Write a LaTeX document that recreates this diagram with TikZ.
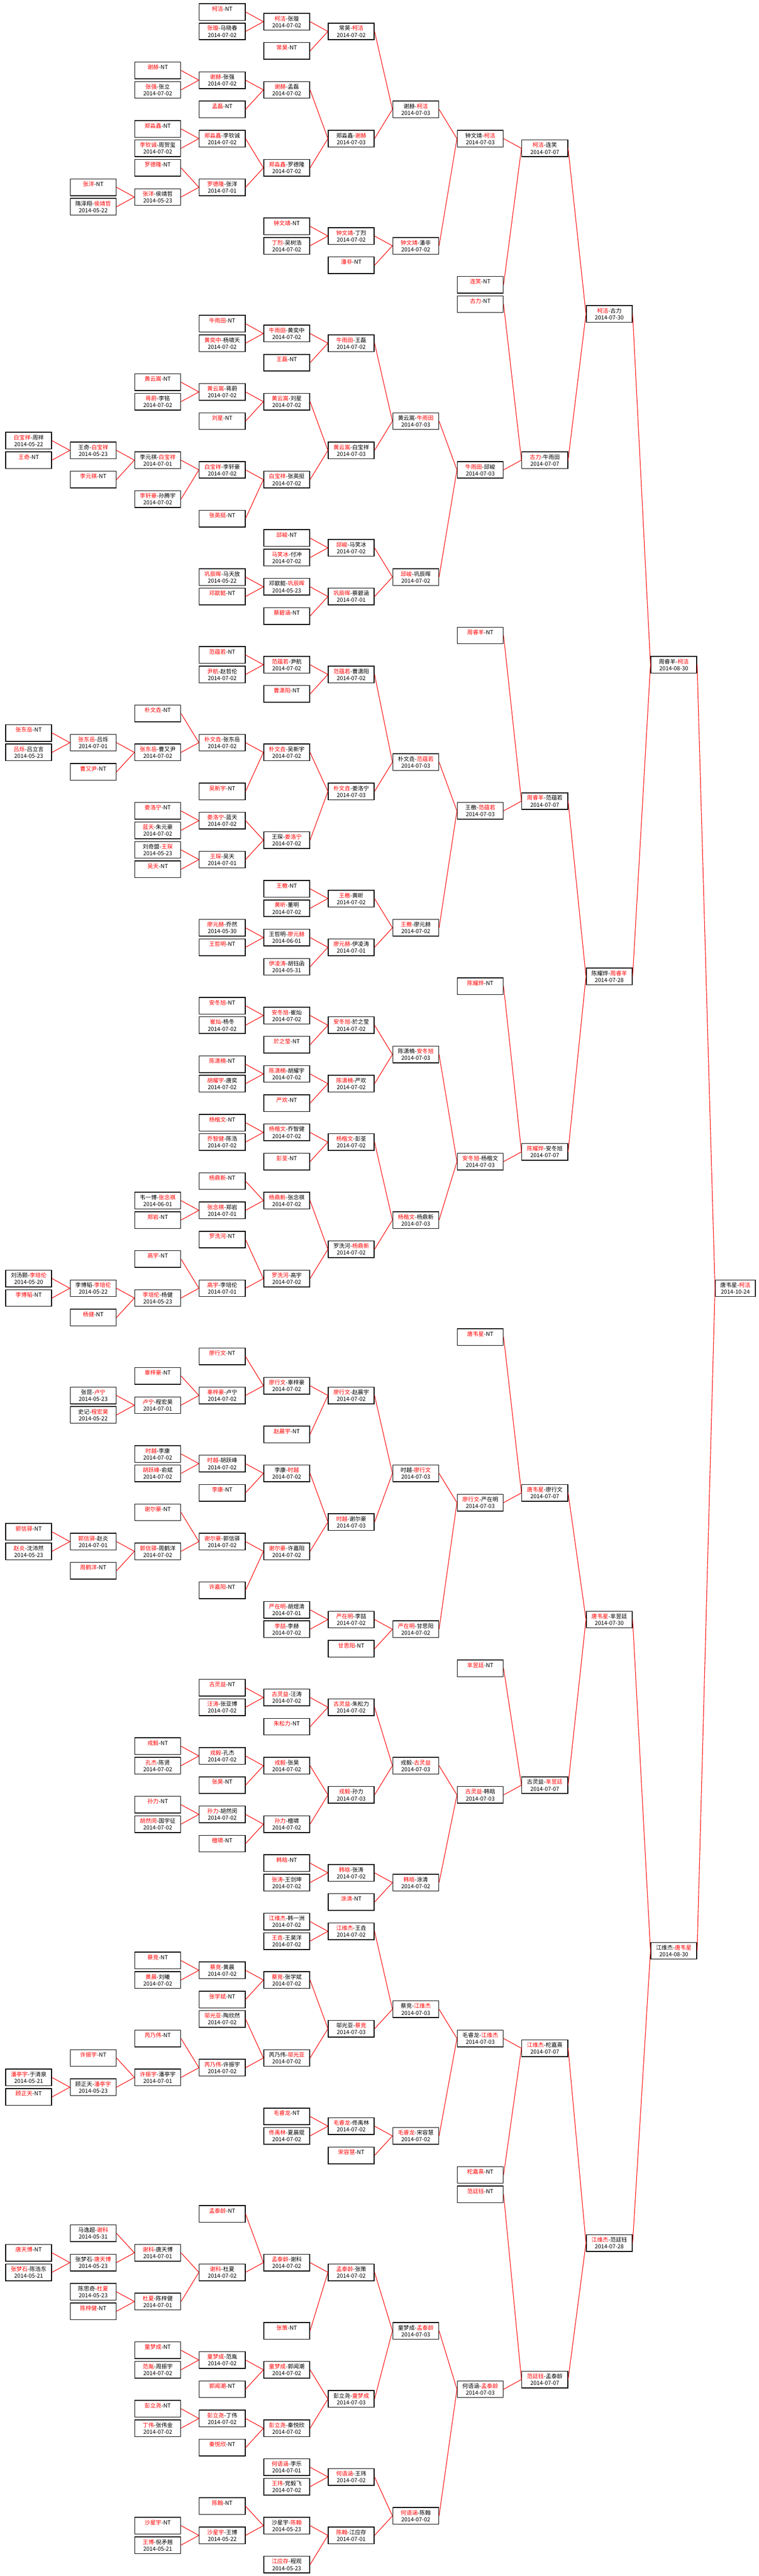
\documentclass[tikz,border=0pt]{standalone}
\usepackage{fontspec}
\newfontfamily\cjk{Noto Sans CJK SC}
\begin{document}
\begin{tikzpicture}[x=86.1pt,y=-13.005pt,
game/.style={draw,line width=1pt,minimum width=61.25pt,minimum height=22.3pt,inner sep=0pt,align=center,font=\cjk\fontsize{7.5}{9}\selectfont},
link/.style={red,line width=0.75pt}]

\def\win#1{\textcolor{red}{#1}};
\def\nodate{\phantom{0}};

\useasboundingbox (-38.275pt,15.95pt) rectangle (974.225pt,-3422.55pt);

\node[game] (g3-0) at (3,0) {\win{柯洁}-NT\\\nodate};
\node[game] (g3-2) at (3,2) {\win{张璇}-马晓春\\2014-07-02};
\node[game] (g4-1) at (4,1) {\win{柯洁}-张璇\\2014-07-02};
\draw[link] (g3-0.east) -- (g4-1.west) (g3-2.east) -- (g4-1.west);
\node[game] (g4-4) at (4,4) {\win{常昊}-NT\\\nodate};
\node[game] (g5-2) at (5,2) {常昊-\win{柯洁}\\2014-07-02};
\draw[link] (g4-1.east) -- (g5-2.west) (g4-4.east) -- (g5-2.west);
\node[game] (g2-6) at (2,6) {\win{谢赫}-NT\\\nodate};
\node[game] (g2-8) at (2,8) {\win{张强}-张立\\2014-07-02};
\node[game] (g3-7) at (3,7) {\win{谢赫}-张强\\2014-07-02};
\draw[link] (g2-6.east) -- (g3-7.west) (g2-8.east) -- (g3-7.west);
\node[game] (g3-10) at (3,10) {\win{孟磊}-NT\\\nodate};
\node[game] (g4-8) at (4,8) {\win{谢赫}-孟磊\\2014-07-02};
\draw[link] (g3-7.east) -- (g4-8.west) (g3-10.east) -- (g4-8.west);
\node[game] (g2-12) at (2,12) {\win{郑淼鑫}-NT\\\nodate};
\node[game] (g2-14) at (2,14) {\win{李钦诚}-周贺玺\\2014-07-02};
\node[game] (g3-13) at (3,13) {\win{郑淼鑫}-李钦诚\\2014-07-02};
\draw[link] (g2-12.east) -- (g3-13.west) (g2-14.east) -- (g3-13.west);
\node[game] (g2-16) at (2,16) {\win{罗德隆}-NT\\\nodate};
\node[game] (g1-18) at (1,18) {\win{张洋}-NT\\\nodate};
\node[game] (g1-20) at (1,20) {隋泽翔-\win{侯靖哲}\\2014-05-22};
\node[game] (g2-19) at (2,19) {\win{张洋}-侯靖哲\\2014-05-23};
\draw[link] (g1-18.east) -- (g2-19.west) (g1-20.east) -- (g2-19.west);
\node[game] (g3-18) at (3,18) {\win{罗德隆}-张洋\\2014-07-01};
\draw[link] (g2-16.east) -- (g3-18.west) (g2-19.east) -- (g3-18.west);
\node[game] (g4-16) at (4,16) {\win{郑淼鑫}-罗德隆\\2014-07-02};
\draw[link] (g3-13.east) -- (g4-16.west) (g3-18.east) -- (g4-16.west);
\node[game] (g5-13) at (5,13) {郑淼鑫-\win{谢赫}\\2014-07-03};
\draw[link] (g4-8.east) -- (g5-13.west) (g4-16.east) -- (g5-13.west);
\node[game] (g6-10) at (6,10) {谢赫-\win{柯洁}\\2014-07-03};
\draw[link] (g5-2.east) -- (g6-10.west) (g5-13.east) -- (g6-10.west);
\node[game] (g4-22) at (4,22) {\win{钟文靖}-NT\\\nodate};
\node[game] (g4-24) at (4,24) {\win{丁烈}-吴树浩\\2014-07-02};
\node[game] (g5-23) at (5,23) {\win{钟文靖}-丁烈\\2014-07-02};
\draw[link] (g4-22.east) -- (g5-23.west) (g4-24.east) -- (g5-23.west);
\node[game] (g5-26) at (5,26) {\win{潘非}-NT\\\nodate};
\node[game] (g6-24) at (6,24) {\win{钟文靖}-潘非\\2014-07-02};
\draw[link] (g5-23.east) -- (g6-24.west) (g5-26.east) -- (g6-24.west);
\node[game] (g7-13) at (7,13) {钟文靖-\win{柯洁}\\2014-07-03};
\draw[link] (g6-10.east) -- (g7-13.west) (g6-24.east) -- (g7-13.west);
\node[game] (g7-28) at (7,28) {\win{连笑}-NT\\\nodate};
\node[game] (g8-14) at (8,14) {\win{柯洁}-连笑\\2014-07-07};
\draw[link] (g7-13.east) -- (g8-14.west) (g7-28.east) -- (g8-14.west);
\node[game] (g7-30) at (7,30) {\win{古力}-NT\\\nodate};

\node[game] (g3-32) at (3,32) {\win{牛雨田}-NT\\\nodate};
\node[game] (g3-34) at (3,34) {\win{黄奕中}-杨啸天\\2014-07-02};
\node[game] (g4-33) at (4,33) {\win{牛雨田}-黄奕中\\2014-07-02};
\draw[link] (g3-32.east) -- (g4-33.west) (g3-34.east) -- (g4-33.west);
\node[game] (g4-36) at (4,36) {\win{王磊}-NT\\\nodate};
\node[game] (g5-34) at (5,34) {\win{牛雨田}-王磊\\2014-07-02};
\draw[link] (g4-33.east) -- (g5-34.west) (g4-36.east) -- (g5-34.west);
\node[game] (g2-38) at (2,38) {\win{黄云嵩}-NT\\\nodate};
\node[game] (g2-40) at (2,40) {\win{蒋蔚}-李铭\\2014-07-02};
\node[game] (g3-39) at (3,39) {\win{黄云嵩}-蒋蔚\\2014-07-02};
\draw[link] (g2-38.east) -- (g3-39.west) (g2-40.east) -- (g3-39.west);
\node[game] (g3-42) at (3,42) {\win{刘星}-NT\\\nodate};
\node[game] (g4-40) at (4,40) {\win{黄云嵩}-刘星\\2014-07-02};
\draw[link] (g3-39.east) -- (g4-40.west) (g3-42.east) -- (g4-40.west);
\node[game] (g0-44) at (0,44) {\win{白宝祥}-周祥\\2014-05-22};
\node[game] (g0-46) at (0,46) {\win{王奇}-NT\\\nodate};
\node[game] (g1-45) at (1,45) {王奇-\win{白宝祥}\\2014-05-23};
\draw[link] (g0-44.east) -- (g1-45.west) (g0-46.east) -- (g1-45.west);
\node[game] (g1-48) at (1,48) {\win{李元祺}-NT\\\nodate};
\node[game] (g2-46) at (2,46) {李元祺-\win{白宝祥}\\2014-07-01};
\draw[link] (g1-45.east) -- (g2-46.west) (g1-48.east) -- (g2-46.west);
\node[game] (g2-50) at (2,50) {\win{李轩豪}-孙腾宇\\2014-07-02};
\node[game] (g3-47) at (3,47) {\win{白宝祥}-李轩豪\\2014-07-02};
\draw[link] (g2-46.east) -- (g3-47.west) (g2-50.east) -- (g3-47.west);
\node[game] (g3-52) at (3,52) {\win{张英挺}-NT\\\nodate};
\node[game] (g4-48) at (4,48) {\win{白宝祥}-张英挺\\2014-07-02};
\draw[link] (g3-47.east) -- (g4-48.west) (g3-52.east) -- (g4-48.west);
\node[game] (g5-45) at (5,45) {\win{黄云嵩}-白宝祥\\2014-07-03};
\draw[link] (g4-40.east) -- (g5-45.west) (g4-48.east) -- (g5-45.west);
\node[game] (g6-42) at (6,42) {黄云嵩-\win{牛雨田}\\2014-07-03};
\draw[link] (g5-34.east) -- (g6-42.west) (g5-45.east) -- (g6-42.west);
\node[game] (g4-54) at (4,54) {\win{邱峻}-NT\\\nodate};
\node[game] (g4-56) at (4,56) {\win{马笑冰}-付冲\\2014-07-02};
\node[game] (g5-55) at (5,55) {\win{邱峻}-马笑冰\\2014-07-02};
\draw[link] (g4-54.east) -- (g5-55.west) (g4-56.east) -- (g5-55.west);
\node[game] (g3-58) at (3,58) {\win{巩辰晖}-马天放\\2014-05-22};
\node[game] (g3-60) at (3,60) {\win{邓歆懿}-NT\\\nodate};
\node[game] (g4-59) at (4,59) {邓歆懿-\win{巩辰晖}\\2014-05-23};
\draw[link] (g3-58.east) -- (g4-59.west) (g3-60.east) -- (g4-59.west);
\node[game] (g4-62) at (4,62) {\win{蔡碧涵}-NT\\\nodate};
\node[game] (g5-60) at (5,60) {\win{巩辰晖}-蔡碧涵\\2014-07-01};
\draw[link] (g4-59.east) -- (g5-60.west) (g4-62.east) -- (g5-60.west);
\node[game] (g6-58) at (6,58) {\win{邱峻}-巩辰晖\\2014-07-02};
\draw[link] (g5-55.east) -- (g6-58.west) (g5-60.east) -- (g6-58.west);
\node[game] (g7-47) at (7,47) {\win{牛雨田}-邱峻\\2014-07-03};
\draw[link] (g6-42.east) -- (g7-47.west) (g6-58.east) -- (g7-47.west);
\node[game] (g8-46) at (8,46) {\win{古力}-牛雨田\\2014-07-07};
\draw[link] (g7-30.east) -- (g8-46.west) (g7-47.east) -- (g8-46.west);
\node[game] (g9-31) at (9,31) {\win{柯洁}-古力\\2014-07-30};
\draw[link] (g8-14.east) -- (g9-31.west) (g8-46.east) -- (g9-31.west);

\node[game] (g7-64) at (7,64) {\win{周睿羊}-NT\\\nodate};
\node[game] (g3-66) at (3,66) {\win{范蕴若}-NT\\\nodate};
\node[game] (g3-68) at (3,68) {\win{尹航}-赵哲伦\\2014-07-02};
\node[game] (g4-67) at (4,67) {\win{范蕴若}-尹航\\2014-07-02};
\draw[link] (g3-66.east) -- (g4-67.west) (g3-68.east) -- (g4-67.west);
\node[game] (g4-70) at (4,70) {\win{曹潇阳}-NT\\\nodate};
\node[game] (g5-68) at (5,68) {\win{范蕴若}-曹潇阳\\2014-07-02};
\draw[link] (g4-67.east) -- (g5-68.west) (g4-70.east) -- (g5-68.west);
\node[game] (g2-72) at (2,72) {\win{朴文垚}-NT\\\nodate};
\node[game] (g0-74) at (0,74) {\win{张东岳}-NT\\\nodate};
\node[game] (g0-76) at (0,76) {\win{吕烁}-吕立言\\2014-05-23};
\node[game] (g1-75) at (1,75) {\win{张东岳}-吕烁\\2014-07-01};
\draw[link] (g0-74.east) -- (g1-75.west) (g0-76.east) -- (g1-75.west);
\node[game] (g1-78) at (1,78) {\win{曹又尹}-NT\\\nodate};
\node[game] (g2-76) at (2,76) {\win{张东岳}-曹又尹\\2014-07-02};
\draw[link] (g1-75.east) -- (g2-76.west) (g1-78.east) -- (g2-76.west);
\node[game] (g3-75) at (3,75) {\win{朴文垚}-张东岳\\2014-07-02};
\draw[link] (g2-72.east) -- (g3-75.west) (g2-76.east) -- (g3-75.west);
\node[game] (g3-80) at (3,80) {\win{吴新宇}-NT\\\nodate};
\node[game] (g4-76) at (4,76) {\win{朴文垚}-吴新宇\\2014-07-02};
\draw[link] (g3-75.east) -- (g4-76.west) (g3-80.east) -- (g4-76.west);
\node[game] (g2-82) at (2,82) {\win{娄洛宁}-NT\\\nodate};
\node[game] (g2-84) at (2,84) {\win{蓝天}-朱元豪\\2014-07-02};
\node[game] (g3-83) at (3,83) {\win{娄洛宁}-蓝天\\2014-07-02};
\draw[link] (g2-82.east) -- (g3-83.west) (g2-84.east) -- (g3-83.west);
\node[game] (g2-86) at (2,86) {刘奇盟-\win{王琛}\\2014-05-23};
\node[game] (g2-88) at (2,88) {\win{吴天}-NT\\\nodate};
\node[game] (g3-87) at (3,87) {\win{王琛}-吴天\\2014-07-01};
\draw[link] (g2-86.east) -- (g3-87.west) (g2-88.east) -- (g3-87.west);
\node[game] (g4-85) at (4,85) {王琛-\win{娄洛宁}\\2014-07-02};
\draw[link] (g3-83.east) -- (g4-85.west) (g3-87.east) -- (g4-85.west);
\node[game] (g5-80) at (5,80) {\win{朴文垚}-娄洛宁\\2014-07-03};
\draw[link] (g4-76.east) -- (g5-80.west) (g4-85.east) -- (g5-80.west);
\node[game] (g6-77) at (6,77) {朴文垚-\win{范蕴若}\\2014-07-03};
\draw[link] (g5-68.east) -- (g6-77.west) (g5-80.east) -- (g6-77.west);
\node[game] (g4-90) at (4,90) {\win{王檄}-NT\\\nodate};
\node[game] (g4-92) at (4,92) {\win{黄昕}-董明\\2014-07-02};
\node[game] (g5-91) at (5,91) {\win{王檄}-黄昕\\2014-07-02};
\draw[link] (g4-90.east) -- (g5-91.west) (g4-92.east) -- (g5-91.west);
\node[game] (g3-94) at (3,94) {\win{廖元赫}-乔然\\2014-05-30};
\node[game] (g3-96) at (3,96) {\win{王哲明}-NT\\\nodate};
\node[game] (g4-95) at (4,95) {王哲明-\win{廖元赫}\\2014-06-01};
\draw[link] (g3-94.east) -- (g4-95.west) (g3-96.east) -- (g4-95.west);
\node[game] (g4-98) at (4,98) {\win{伊凌涛}-胡钰函\\2014-05-31};
\node[game] (g5-96) at (5,96) {\win{廖元赫}-伊凌涛\\2014-07-01};
\draw[link] (g4-95.east) -- (g5-96.west) (g4-98.east) -- (g5-96.west);
\node[game] (g6-94) at (6,94) {\win{王檄}-廖元赫\\2014-07-02};
\draw[link] (g5-91.east) -- (g6-94.west) (g5-96.east) -- (g6-94.west);
\node[game] (g7-82) at (7,82) {王檄-\win{范蕴若}\\2014-07-03};
\draw[link] (g6-77.east) -- (g7-82.west) (g6-94.east) -- (g7-82.west);
\node[game] (g8-81) at (8,81) {\win{周睿羊}-范蕴若\\2014-07-07};
\draw[link] (g7-64.east) -- (g8-81.west) (g7-82.east) -- (g8-81.west);
\node[game] (g7-100) at (7,100) {\win{陈耀烨}-NT\\\nodate};
\node[game] (g3-102) at (3,102) {\win{安冬旭}-NT\\\nodate};
\node[game] (g3-104) at (3,104) {\win{崔灿}-杨冬\\2014-07-02};
\node[game] (g4-103) at (4,103) {\win{安冬旭}-崔灿\\2014-07-02};
\draw[link] (g3-102.east) -- (g4-103.west) (g3-104.east) -- (g4-103.west);
\node[game] (g4-106) at (4,106) {\win{於之莹}-NT\\\nodate};
\node[game] (g5-104) at (5,104) {\win{安冬旭}-於之莹\\2014-07-02};
\draw[link] (g4-103.east) -- (g5-104.west) (g4-106.east) -- (g5-104.west);
\node[game] (g3-108) at (3,108) {\win{陈潇楠}-NT\\\nodate};
\node[game] (g3-110) at (3,110) {\win{胡耀宇}-唐奕\\2014-07-02};
\node[game] (g4-109) at (4,109) {\win{陈潇楠}-胡耀宇\\2014-07-02};
\draw[link] (g3-108.east) -- (g4-109.west) (g3-110.east) -- (g4-109.west);
\node[game] (g4-112) at (4,112) {\win{严欢}-NT\\\nodate};
\node[game] (g5-110) at (5,110) {\win{陈潇楠}-严欢\\2014-07-02};
\draw[link] (g4-109.east) -- (g5-110.west) (g4-112.east) -- (g5-110.west);
\node[game] (g6-107) at (6,107) {陈潇楠-\win{安冬旭}\\2014-07-03};
\draw[link] (g5-104.east) -- (g6-107.west) (g5-110.east) -- (g6-107.west);
\node[game] (g3-114) at (3,114) {\win{杨楷文}-NT\\\nodate};
\node[game] (g3-116) at (3,116) {\win{乔智健}-陈浩\\2014-07-02};
\node[game] (g4-115) at (4,115) {\win{杨楷文}-乔智健\\2014-07-02};
\draw[link] (g3-114.east) -- (g4-115.west) (g3-116.east) -- (g4-115.west);
\node[game] (g4-118) at (4,118) {\win{彭荃}-NT\\\nodate};
\node[game] (g5-116) at (5,116) {\win{杨楷文}-彭荃\\2014-07-02};
\draw[link] (g4-115.east) -- (g5-116.west) (g4-118.east) -- (g5-116.west);
\node[game] (g3-120) at (3,120) {\win{杨鼎新}-NT\\\nodate};
\node[game] (g2-122) at (2,122) {韦一博-\win{张念祺}\\2014-06-01};
\node[game] (g2-124) at (2,124) {\win{郑岩}-NT\\\nodate};
\node[game] (g3-123) at (3,123) {\win{张念祺}-郑岩\\2014-07-01};
\draw[link] (g2-122.east) -- (g3-123.west) (g2-124.east) -- (g3-123.west);
\node[game] (g4-122) at (4,122) {\win{杨鼎新}-张念祺\\2014-07-02};
\draw[link] (g3-120.east) -- (g4-122.west) (g3-123.east) -- (g4-122.west);
\node[game] (g3-126) at (3,126) {\win{罗洗河}-NT\\\nodate};
\node[game] (g2-128) at (2,128) {\win{高宇}-NT\\\nodate};
\node[game] (g0-130) at (0,130) {刘汤颢-\win{李培伦}\\2014-05-20};
\node[game] (g0-132) at (0,132) {\win{李博韬}-NT\\\nodate};
\node[game] (g1-131) at (1,131) {李博韬-\win{李培伦}\\2014-05-22};
\draw[link] (g0-130.east) -- (g1-131.west) (g0-132.east) -- (g1-131.west);
\node[game] (g1-134) at (1,134) {\win{杨健}-NT\\\nodate};
\node[game] (g2-132) at (2,132) {\win{李培伦}-杨健\\2014-05-23};
\draw[link] (g1-131.east) -- (g2-132.west) (g1-134.east) -- (g2-132.west);
\node[game] (g3-131) at (3,131) {\win{高宇}-李培伦\\2014-07-01};
\draw[link] (g2-128.east) -- (g3-131.west) (g2-132.east) -- (g3-131.west);
\node[game] (g4-130) at (4,130) {\win{罗洗河}-高宇\\2014-07-02};
\draw[link] (g3-126.east) -- (g4-130.west) (g3-131.east) -- (g4-130.west);
\node[game] (g5-127) at (5,127) {罗洗河-\win{杨鼎新}\\2014-07-02};
\draw[link] (g4-122.east) -- (g5-127.west) (g4-130.east) -- (g5-127.west);
\node[game] (g6-124) at (6,124) {\win{杨楷文}-杨鼎新\\2014-07-03};
\draw[link] (g5-116.east) -- (g6-124.west) (g5-127.east) -- (g6-124.west);
\node[game] (g7-118) at (7,118) {\win{安冬旭}-杨楷文\\2014-07-03};
\draw[link] (g6-107.east) -- (g7-118.west) (g6-124.east) -- (g7-118.west);
\node[game] (g8-117) at (8,117) {\win{陈耀烨}-安冬旭\\2014-07-07};
\draw[link] (g7-100.east) -- (g8-117.west) (g7-118.east) -- (g8-117.west);
\node[game] (g9-99) at (9,99) {陈耀烨-\win{周睿羊}\\2014-07-28};
\draw[link] (g8-81.east) -- (g9-99.west) (g8-117.east) -- (g9-99.west);
\node[game] (g10-67) at (10,67) {周睿羊-\win{柯洁}\\2014-08-30};
\draw[link] (g9-31.east) -- (g10-67.west) (g9-99.east) -- (g10-67.west);

\node[game] (g7-136) at (7,136) {\win{唐韦星}-NT\\\nodate};
\node[game] (g3-138) at (3,138) {\win{廖行文}-NT\\\nodate};
\node[game] (g2-140) at (2,140) {\win{辜梓豪}-NT\\\nodate};
\node[game] (g1-142) at (1,142) {张昆-\win{卢宁}\\2014-05-23};
\node[game] (g1-144) at (1,144) {史记-\win{程宏昊}\\2014-05-22};
\node[game] (g2-143) at (2,143) {\win{卢宁}-程宏昊\\2014-07-01};
\draw[link] (g1-142.east) -- (g2-143.west) (g1-144.east) -- (g2-143.west);
\node[game] (g3-142) at (3,142) {\win{辜梓豪}-卢宁\\2014-07-02};
\draw[link] (g2-140.east) -- (g3-142.west) (g2-143.east) -- (g3-142.west);
\node[game] (g4-141) at (4,141) {\win{廖行文}-辜梓豪\\2014-07-02};
\draw[link] (g3-138.east) -- (g4-141.west) (g3-142.east) -- (g4-141.west);
\node[game] (g4-146) at (4,146) {\win{赵晨宇}-NT\\\nodate};
\node[game] (g5-142) at (5,142) {\win{廖行文}-赵晨宇\\2014-07-02};
\draw[link] (g4-141.east) -- (g5-142.west) (g4-146.east) -- (g5-142.west);
\node[game] (g2-148) at (2,148) {\win{时越}-李康\\2014-07-02};
\node[game] (g2-150) at (2,150) {\win{胡跃峰}-俞斌\\2014-07-02};
\node[game] (g3-149) at (3,149) {\win{时越}-胡跃峰\\2014-07-02};
\draw[link] (g2-148.east) -- (g3-149.west) (g2-150.east) -- (g3-149.west);
\node[game] (g3-152) at (3,152) {\win{李康}-NT\\\nodate};
\node[game] (g4-150) at (4,150) {李康-\win{时越}\\2014-07-02};
\draw[link] (g3-149.east) -- (g4-150.west) (g3-152.east) -- (g4-150.west);
\node[game] (g2-154) at (2,154) {\win{谢尔豪}-NT\\\nodate};
\node[game] (g0-156) at (0,156) {\win{郭信驿}-NT\\\nodate};
\node[game] (g0-158) at (0,158) {\win{赵炎}-沈沛然\\2014-05-23};
\node[game] (g1-157) at (1,157) {\win{郭信驿}-赵炎\\2014-07-01};
\draw[link] (g0-156.east) -- (g1-157.west) (g0-158.east) -- (g1-157.west);
\node[game] (g1-160) at (1,160) {\win{周鹤洋}-NT\\\nodate};
\node[game] (g2-158) at (2,158) {\win{郭信驿}-周鹤洋\\2014-07-02};
\draw[link] (g1-157.east) -- (g2-158.west) (g1-160.east) -- (g2-158.west);
\node[game] (g3-157) at (3,157) {\win{谢尔豪}-郭信驿\\2014-07-02};
\draw[link] (g2-154.east) -- (g3-157.west) (g2-158.east) -- (g3-157.west);
\node[game] (g3-162) at (3,162) {\win{许嘉阳}-NT\\\nodate};
\node[game] (g4-158) at (4,158) {\win{谢尔豪}-许嘉阳\\2014-07-02};
\draw[link] (g3-157.east) -- (g4-158.west) (g3-162.east) -- (g4-158.west);
\node[game] (g5-155) at (5,155) {\win{时越}-谢尔豪\\2014-07-03};
\draw[link] (g4-150.east) -- (g5-155.west) (g4-158.east) -- (g5-155.west);
\node[game] (g6-150) at (6,150) {时越-\win{廖行文}\\2014-07-03};
\draw[link] (g5-142.east) -- (g6-150.west) (g5-155.east) -- (g6-150.west);
\node[game] (g4-164) at (4,164) {\win{严在明}-胡煜清\\2014-07-01};
\node[game] (g4-166) at (4,166) {\win{李喆}-李赫\\2014-07-02};
\node[game] (g5-165) at (5,165) {\win{严在明}-李喆\\2014-07-02};
\draw[link] (g4-164.east) -- (g5-165.west) (g4-166.east) -- (g5-165.west);
\node[game] (g5-168) at (5,168) {\win{甘思阳}-NT\\\nodate};
\node[game] (g6-166) at (6,166) {\win{严在明}-甘思阳\\2014-07-02};
\draw[link] (g5-165.east) -- (g6-166.west) (g5-168.east) -- (g6-166.west);
\node[game] (g7-153) at (7,153) {\win{廖行文}-严在明\\2014-07-03};
\draw[link] (g6-150.east) -- (g7-153.west) (g6-166.east) -- (g7-153.west);
\node[game] (g8-152) at (8,152) {\win{唐韦星}-廖行文\\2014-07-07};
\draw[link] (g7-136.east) -- (g8-152.west) (g7-153.east) -- (g8-152.west);
\node[game] (g7-170) at (7,170) {\win{芈昱廷}-NT\\\nodate};
\node[game] (g3-172) at (3,172) {\win{古灵益}-NT\\\nodate};
\node[game] (g3-174) at (3,174) {\win{汪涛}-张亚博\\2014-07-02};
\node[game] (g4-173) at (4,173) {\win{古灵益}-汪涛\\2014-07-02};
\draw[link] (g3-172.east) -- (g4-173.west) (g3-174.east) -- (g4-173.west);
\node[game] (g4-176) at (4,176) {\win{朱松力}-NT\\\nodate};
\node[game] (g5-174) at (5,174) {\win{古灵益}-朱松力\\2014-07-02};
\draw[link] (g4-173.east) -- (g5-174.west) (g4-176.east) -- (g5-174.west);
\node[game] (g2-178) at (2,178) {\win{戎毅}-NT\\\nodate};
\node[game] (g2-180) at (2,180) {\win{孔杰}-陈贤\\2014-07-02};
\node[game] (g3-179) at (3,179) {\win{戎毅}-孔杰\\2014-07-02};
\draw[link] (g2-178.east) -- (g3-179.west) (g2-180.east) -- (g3-179.west);
\node[game] (g3-182) at (3,182) {\win{张昊}-NT\\\nodate};
\node[game] (g4-180) at (4,180) {\win{戎毅}-张昊\\2014-07-02};
\draw[link] (g3-179.east) -- (g4-180.west) (g3-182.east) -- (g4-180.west);
\node[game] (g2-184) at (2,184) {\win{孙力}-NT\\\nodate};
\node[game] (g2-186) at (2,186) {\win{胡然闵}-国宇征\\2014-07-02};
\node[game] (g3-185) at (3,185) {\win{孙力}-胡然闵\\2014-07-02};
\draw[link] (g2-184.east) -- (g3-185.west) (g2-186.east) -- (g3-185.west);
\node[game] (g3-188) at (3,188) {\win{檀啸}-NT\\\nodate};
\node[game] (g4-186) at (4,186) {\win{孙力}-檀啸\\2014-07-02};
\draw[link] (g3-185.east) -- (g4-186.west) (g3-188.east) -- (g4-186.west);
\node[game] (g5-183) at (5,183) {\win{戎毅}-孙力\\2014-07-03};
\draw[link] (g4-180.east) -- (g5-183.west) (g4-186.east) -- (g5-183.west);
\node[game] (g6-180) at (6,180) {戎毅-\win{古灵益}\\2014-07-03};
\draw[link] (g5-174.east) -- (g6-180.west) (g5-183.east) -- (g6-180.west);
\node[game] (g4-190) at (4,190) {\win{韩晗}-NT\\\nodate};
\node[game] (g4-192) at (4,192) {\win{张涛}-王剑坤\\2014-07-02};
\node[game] (g5-191) at (5,191) {\win{韩晗}-张涛\\2014-07-02};
\draw[link] (g4-190.east) -- (g5-191.west) (g4-192.east) -- (g5-191.west);
\node[game] (g5-194) at (5,194) {\win{涂清}-NT\\\nodate};
\node[game] (g6-192) at (6,192) {\win{韩晗}-涂清\\2014-07-02};
\draw[link] (g5-191.east) -- (g6-192.west) (g5-194.east) -- (g6-192.west);
\node[game] (g7-183) at (7,183) {\win{古灵益}-韩晗\\2014-07-03};
\draw[link] (g6-180.east) -- (g7-183.west) (g6-192.east) -- (g7-183.west);
\node[game] (g8-182) at (8,182) {古灵益-\win{芈昱廷}\\2014-07-07};
\draw[link] (g7-170.east) -- (g8-182.west) (g7-183.east) -- (g8-182.west);
\node[game] (g9-165) at (9,165) {\win{唐韦星}-芈昱廷\\2014-07-30};
\draw[link] (g8-152.east) -- (g9-165.west) (g8-182.east) -- (g9-165.west);

\node[game] (g4-196) at (4,196) {\win{江维杰}-韩一洲\\2014-07-02};
\node[game] (g4-198) at (4,198) {\win{王垚}-王昊洋\\2014-07-02};
\node[game] (g5-197) at (5,197) {\win{江维杰}-王垚\\2014-07-02};
\draw[link] (g4-196.east) -- (g5-197.west) (g4-198.east) -- (g5-197.west);
\node[game] (g2-200) at (2,200) {\win{蔡竞}-NT\\\nodate};
\node[game] (g2-202) at (2,202) {\win{黄晨}-刘曦\\2014-07-02};
\node[game] (g3-201) at (3,201) {\win{蔡竞}-黄晨\\2014-07-02};
\draw[link] (g2-200.east) -- (g3-201.west) (g2-202.east) -- (g3-201.west);
\node[game] (g3-204) at (3,204) {\win{张学斌}-NT\\\nodate};
\node[game] (g4-202) at (4,202) {\win{蔡竞}-张学斌\\2014-07-02};
\draw[link] (g3-201.east) -- (g4-202.west) (g3-204.east) -- (g4-202.west);
\node[game] (g3-206) at (3,206) {\win{邬光亚}-陶欣然\\2014-07-02};
\node[game] (g2-208) at (2,208) {\win{芮乃伟}-NT\\\nodate};
\node[game] (g1-210) at (1,210) {\win{许振宇}-NT\\\nodate};
\node[game] (g0-212) at (0,212) {\win{潘亭宇}-于清泉\\2014-05-21};
\node[game] (g0-214) at (0,214) {\win{顾正天}-NT\\\nodate};
\node[game] (g1-213) at (1,213) {顾正天-\win{潘亭宇}\\2014-05-23};
\draw[link] (g0-212.east) -- (g1-213.west) (g0-214.east) -- (g1-213.west);
\node[game] (g2-212) at (2,212) {\win{许振宇}-潘亭宇\\2014-07-01};
\draw[link] (g1-210.east) -- (g2-212.west) (g1-213.east) -- (g2-212.west);
\node[game] (g3-211) at (3,211) {\win{芮乃伟}-许振宇\\2014-07-02};
\draw[link] (g2-208.east) -- (g3-211.west) (g2-212.east) -- (g3-211.west);
\node[game] (g4-210) at (4,210) {芮乃伟-\win{邬光亚}\\2014-07-02};
\draw[link] (g3-206.east) -- (g4-210.west) (g3-211.east) -- (g4-210.west);
\node[game] (g5-207) at (5,207) {邬光亚-\win{蔡竞}\\2014-07-03};
\draw[link] (g4-202.east) -- (g5-207.west) (g4-210.east) -- (g5-207.west);
\node[game] (g6-205) at (6,205) {蔡竞-\win{江维杰}\\2014-07-03};
\draw[link] (g5-197.east) -- (g6-205.west) (g5-207.east) -- (g6-205.west);
\node[game] (g4-216) at (4,216) {\win{毛睿龙}-NT\\\nodate};
\node[game] (g4-218) at (4,218) {\win{佟禹林}-夏晨琨\\2014-07-02};
\node[game] (g5-217) at (5,217) {\win{毛睿龙}-佟禹林\\2014-07-02};
\draw[link] (g4-216.east) -- (g5-217.west) (g4-218.east) -- (g5-217.west);
\node[game] (g5-220) at (5,220) {\win{宋容慧}-NT\\\nodate};
\node[game] (g6-218) at (6,218) {\win{毛睿龙}-宋容慧\\2014-07-02};
\draw[link] (g5-217.east) -- (g6-218.west) (g5-220.east) -- (g6-218.west);
\node[game] (g7-208) at (7,208) {毛睿龙-\win{江维杰}\\2014-07-03};
\draw[link] (g6-205.east) -- (g7-208.west) (g6-218.east) -- (g7-208.west);
\node[game] (g7-222) at (7,222) {\win{柁嘉熹}-NT\\\nodate};
\node[game] (g8-209) at (8,209) {\win{江维杰}-柁嘉熹\\2014-07-07};
\draw[link] (g7-208.east) -- (g8-209.west) (g7-222.east) -- (g8-209.west);
\node[game] (g7-224) at (7,224) {\win{范廷钰}-NT\\\nodate};
\node[game] (g3-226) at (3,226) {\win{孟泰龄}-NT\\\nodate};
\node[game] (g1-228) at (1,228) {马逸超-\win{谢科}\\2014-05-31};
\node[game] (g0-230) at (0,230) {\win{唐天博}-NT\\\nodate};
\node[game] (g0-232) at (0,232) {\win{张梦石}-陈浩东\\2014-05-21};
\node[game] (g1-231) at (1,231) {张梦石-\win{唐天博}\\2014-05-23};
\draw[link] (g0-230.east) -- (g1-231.west) (g0-232.east) -- (g1-231.west);
\node[game] (g2-230) at (2,230) {\win{谢科}-唐天博\\2014-07-01};
\draw[link] (g1-228.east) -- (g2-230.west) (g1-231.east) -- (g2-230.west);
\node[game] (g1-234) at (1,234) {陈思奇-\win{杜夏}\\2014-05-23};
\node[game] (g1-236) at (1,236) {\win{陈梓健}-NT\\\nodate};
\node[game] (g2-235) at (2,235) {\win{杜夏}-陈梓健\\2014-07-01};
\draw[link] (g1-234.east) -- (g2-235.west) (g1-236.east) -- (g2-235.west);
\node[game] (g3-232) at (3,232) {\win{谢科}-杜夏\\2014-07-02};
\draw[link] (g2-230.east) -- (g3-232.west) (g2-235.east) -- (g3-232.west);
\node[game] (g4-231) at (4,231) {\win{孟泰龄}-谢科\\2014-07-02};
\draw[link] (g3-226.east) -- (g4-231.west) (g3-232.east) -- (g4-231.west);
\node[game] (g4-238) at (4,238) {\win{张策}-NT\\\nodate};
\node[game] (g5-232) at (5,232) {\win{孟泰龄}-张策\\2014-07-02};
\draw[link] (g4-231.east) -- (g5-232.west) (g4-238.east) -- (g5-232.west);
\node[game] (g2-240) at (2,240) {\win{童梦成}-NT\\\nodate};
\node[game] (g2-242) at (2,242) {\win{范胤}-周振宇\\2014-07-02};
\node[game] (g3-241) at (3,241) {\win{童梦成}-范胤\\2014-07-02};
\draw[link] (g2-240.east) -- (g3-241.west) (g2-242.east) -- (g3-241.west);
\node[game] (g3-244) at (3,244) {\win{郭闻潮}-NT\\\nodate};
\node[game] (g4-242) at (4,242) {\win{童梦成}-郭闻潮\\2014-07-02};
\draw[link] (g3-241.east) -- (g4-242.west) (g3-244.east) -- (g4-242.west);
\node[game] (g2-246) at (2,246) {\win{彭立尧}-NT\\\nodate};
\node[game] (g2-248) at (2,248) {\win{丁伟}-张伟金\\2014-07-02};
\node[game] (g3-247) at (3,247) {\win{彭立尧}-丁伟\\2014-07-02};
\draw[link] (g2-246.east) -- (g3-247.west) (g2-248.east) -- (g3-247.west);
\node[game] (g3-250) at (3,250) {\win{秦悦欣}-NT\\\nodate};
\node[game] (g4-248) at (4,248) {\win{彭立尧}-秦悦欣\\2014-07-02};
\draw[link] (g3-247.east) -- (g4-248.west) (g3-250.east) -- (g4-248.west);
\node[game] (g5-245) at (5,245) {彭立尧-\win{童梦成}\\2014-07-03};
\draw[link] (g4-242.east) -- (g5-245.west) (g4-248.east) -- (g5-245.west);
\node[game] (g6-238) at (6,238) {童梦成-\win{孟泰龄}\\2014-07-03};
\draw[link] (g5-232.east) -- (g6-238.west) (g5-245.east) -- (g6-238.west);
\node[game] (g4-252) at (4,252) {\win{何语涵}-李乐\\2014-07-01};
\node[game] (g4-254) at (4,254) {\win{王玮}-党毅飞\\2014-07-02};
\node[game] (g5-253) at (5,253) {\win{何语涵}-王玮\\2014-07-02};
\draw[link] (g4-252.east) -- (g5-253.west) (g4-254.east) -- (g5-253.west);
\node[game] (g3-256) at (3,256) {\win{陈翰}-NT\\\nodate};
\node[game] (g2-258) at (2,258) {\win{沙星宇}-NT\\\nodate};
\node[game] (g2-260) at (2,260) {\win{王博}-倪矛翘\\2014-05-21};
\node[game] (g3-259) at (3,259) {\win{沙星宇}-王博\\2014-05-22};
\draw[link] (g2-258.east) -- (g3-259.west) (g2-260.east) -- (g3-259.west);
\node[game] (g4-258) at (4,258) {沙星宇-\win{陈翰}\\2014-05-23};
\draw[link] (g3-256.east) -- (g4-258.west) (g3-259.east) -- (g4-258.west);
\node[game] (g4-262) at (4,262) {\win{江应存}-程观\\2014-05-23};
\node[game] (g5-259) at (5,259) {\win{陈翰}-江应存\\2014-07-01};
\draw[link] (g4-258.east) -- (g5-259.west) (g4-262.east) -- (g5-259.west);
\node[game] (g6-257) at (6,257) {\win{何语涵}-陈翰\\2014-07-02};
\draw[link] (g5-253.east) -- (g6-257.west) (g5-259.east) -- (g6-257.west);
\node[game] (g7-244) at (7,244) {何语涵-\win{孟泰龄}\\2014-07-03};
\draw[link] (g6-238.east) -- (g7-244.west) (g6-257.east) -- (g7-244.west);
\node[game] (g8-243) at (8,243) {\win{范廷钰}-孟泰龄\\2014-07-07};
\draw[link] (g7-224.east) -- (g8-243.west) (g7-244.east) -- (g8-243.west);
\node[game] (g9-229) at (9,229) {\win{江维杰}-范廷钰\\2014-07-28};
\draw[link] (g8-209.east) -- (g9-229.west) (g8-243.east) -- (g9-229.west);
\node[game] (g10-199) at (10,199) {江维杰-\win{唐韦星}\\2014-08-30};
\draw[link] (g9-165.east) -- (g10-199.west) (g9-229.east) -- (g10-199.west);
\node[game,minimum width=53.25pt] (g11-131) at ([xshift=-4pt]11,131) {唐韦星-\win{柯洁}\\2014-10-24};
\draw[link] (g10-67.east) -- (g11-131.west) (g10-199.east) -- (g11-131.west);
\end{tikzpicture}
\end{document}
